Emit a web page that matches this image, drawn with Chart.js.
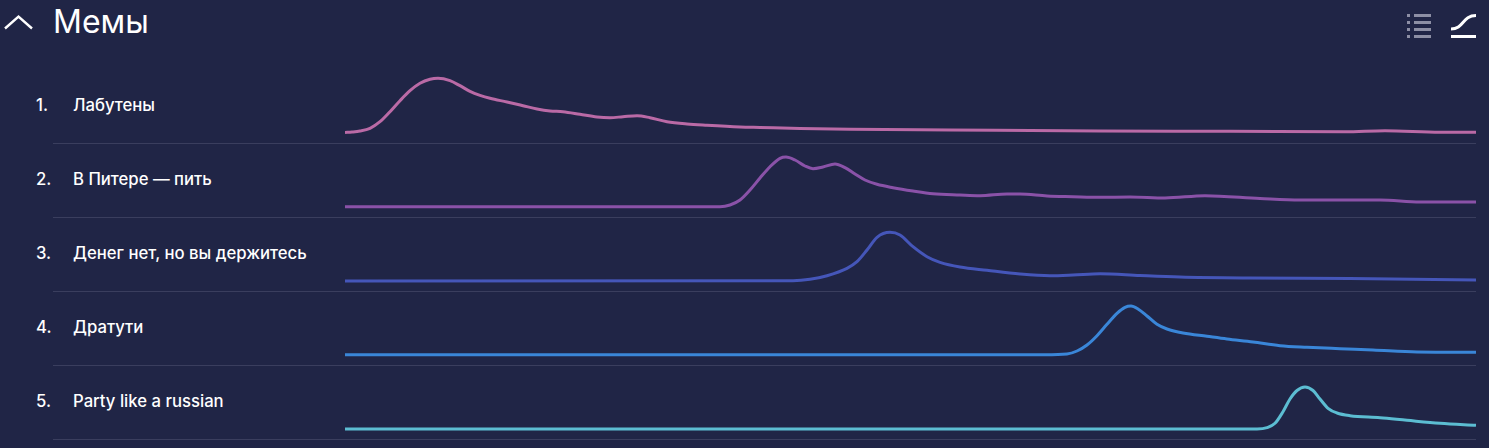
<!DOCTYPE html>
<html lang="ru">
<head>
<meta charset="utf-8">
<title>Мемы</title>
<script src="https://cdn.jsdelivr.net/npm/chart.js@4"></script>
<style>
  html, body { margin: 0; padding: 0; background: #202546; }
  body { position: relative; width: 1489px; height: 448px; overflow: hidden; color: #fff; font-family: Inter, "Noto Sans", sans-serif; }
  .title { position: absolute; left: 53px; top: 1px; font-size: 32px; line-height: 42px; font-weight: 400; }
  .num, .name { position: absolute; font-size: 16.7px; line-height: 22px; font-weight: 500; }
  .num { left: 36px; }
  .name { left: 73px; }
  .sep { position: absolute; left: 53px; width: 1423px; height: 1px; background: #3a3e5e; }
  .plot { position: absolute; left: 345px; width: 1131px; height: 73px; }
  svg { position: absolute; }
</style>
</head>
<body>
<svg style="left:0;top:8px" width="40" height="30" fill="none" stroke="#fff" stroke-width="2.4"><path d="M5 20.5 L18.5 8.5 L32 20.5"/></svg>
<div class="title">Мемы</div>
<svg style="left:1400px;top:10px" width="40" height="32" fill="#8d8fa5">
  <rect x="7" y="4" width="3" height="3"/><rect x="14" y="4" width="17" height="3"/>
  <rect x="7" y="11" width="3" height="3"/><rect x="14" y="11" width="17" height="3"/>
  <rect x="7" y="18" width="3" height="3"/><rect x="14" y="18" width="17" height="3"/>
  <rect x="7" y="25" width="3" height="3"/><rect x="14" y="25" width="17" height="3"/>
</svg>
<svg style="left:1445px;top:10px" width="40" height="32" fill="none" stroke="#fff" stroke-width="3">
  <path d="M6 19 C19 19 17 5.5 31 5.5"/><path d="M6 26.5 H31"/>
</svg>
<script>
// названия строк
const names = ['Лабутены', 'В Питере — пить', 'Денег нет, но вы держитесь', 'Дратути', 'Party like a russian'];
const colors = ['#ba6aa6', '#8a52a8', '#4556b9', '#3a86d8', '#5cbdd2'];

// значения: недели и высота над нулём
const weeks1 = [0, 0.7, 1.5, 2.5, 3.5, 4.5, 5.5, 6.5, 7.5, 8.5, 9.3, 10.5, 11.5, 12.5, 13.5, 14.5, 16.2, 17.8, 19.2, 20.5, 21.8, 23.5, 25.2, 26.5, 27.8, 29.2, 30.5, 32.2, 34.2, 36.2, 39.5, 41.5, 45.5, 50.5, 60.5, 75.5, 88.5, 100, 104, 109.5, 113.1];
const values1 = [0.5, 1, 2, 4.7, 11.3, 21.3, 32.3, 42.3, 49.7, 53.7, 54.7, 52.3, 47.3, 41.7, 37.7, 34.7, 31, 27.3, 24, 22, 21.3, 18.7, 16, 15.3, 16.3, 17.3, 15.3, 11.3, 9, 7.7, 6, 5.5, 4.5, 3.7, 3, 2, 1.7, 1.2, 2.3, 0.8, 0.8];

const weeks2 = [0, 37.5, 38.5, 39.5, 40.5, 41.5, 42.5, 43.5, 44.1, 45, 46, 46.8, 47.8, 49, 50, 51, 52, 53.2, 54.8, 56.8, 58.8, 61.5, 63.5, 66.2, 67.5, 70.2, 72.8, 75.5, 78.5, 82, 86, 91.5, 95.5, 103.5, 107.5, 113.1];
const values2 = [0.3, 0.3, 2, 7, 17, 29, 40.3, 48.7, 50, 47, 41, 38.3, 40, 43, 39.3, 33, 27, 22.7, 19.3, 16, 13.3, 12, 11.3, 13, 13, 11, 10.3, 9.7, 10, 9, 11.3, 8.5, 7, 7, 5, 5];

const weeks3 = [0, 44.8, 46.5, 48.2, 50.2, 51.2, 52.2, 53.2, 54.5, 55.5, 56.8, 58.2, 59.5, 61.5, 64.2, 67.5, 70.5, 72.8, 75.5, 79.5, 83.5, 90.5, 100.5, 113.1];
const values3 = [0, 0.3, 1.7, 5.3, 12.7, 19.3, 31, 43.7, 48.7, 46, 34.3, 24.3, 18.7, 14, 10.7, 7, 5.3, 6, 7.3, 5.5, 4, 3, 2.5, 1];

const weeks4 = [0, 70, 72.2, 73.2, 74.2, 75.2, 76.2, 77.2, 78, 78.6, 79.3, 80.2, 81.2, 82.2, 83.8, 86.2, 88.2, 90.8, 93.5, 96.2, 99.5, 102.8, 107.2, 113.1];
const values4 = [0.3, 0.3, 1, 4, 10, 19.3, 30.7, 41.7, 47.7, 49, 46, 39, 30.7, 26, 22, 18.7, 16, 13, 9.3, 7.7, 6.3, 5, 3, 2.7];

const weeks5 = [0, 91.2, 92.2, 93, 93.8, 94.5, 95.2, 96, 96.8, 97.5, 98.3, 99.2, 100.5, 103.5, 106.2, 109.5, 113.1];
const values5 = [0, 0, 1.3, 5.7, 17.3, 30, 38.5, 42, 38.5, 30, 20.7, 16, 13.3, 11.3, 8.7, 5.7, 3.7];

const allWeeks = [weeks1, weeks2, weeks3, weeks4, weeks5];
const allValues = [values1, values2, values3, values4, values5];

function crearFila(i) {
  const top = 70 + 74 * i;

  const num = document.createElement('div');
  num.className = 'num';
  num.style.top = (top + 24) + 'px';
  num.textContent = (i + 1) + '.';
  document.body.appendChild(num);

  const name = document.createElement('div');
  name.className = 'name';
  name.style.top = (top + 24) + 'px';
  name.textContent = names[i];
  document.body.appendChild(name);

  const sep = document.createElement('div');
  sep.className = 'sep';
  sep.style.top = (top + 73) + 'px';
  document.body.appendChild(sep);

  const box = document.createElement('div');
  box.className = 'plot';
  box.style.top = top + 'px';
  const canvas = document.createElement('canvas');
  box.appendChild(canvas);
  document.body.appendChild(box);

  new Chart(canvas, {
    type: 'line',
    data: {
      datasets: [{
        data: allWeeks[i].map((w, k) => ({ x: w, y: allValues[i][k] })),
        borderColor: colors[i],
        borderWidth: 3,
        pointRadius: 0,
        fill: false,
        cubicInterpolationMode: 'monotone'
      }]
    },
    options: {
      responsive: true,
      maintainAspectRatio: false,
      animation: false,
      plugins: { legend: { display: false }, tooltip: { enabled: false } },
      scales: {
        x: { type: 'linear', display: false, min: 0, max: 113.1 },
        y: { display: false, min: -10, max: 63 }
      }
    }
  });
}

names.forEach((n, i) => crearFila(i));
</script>
</body>
</html>
